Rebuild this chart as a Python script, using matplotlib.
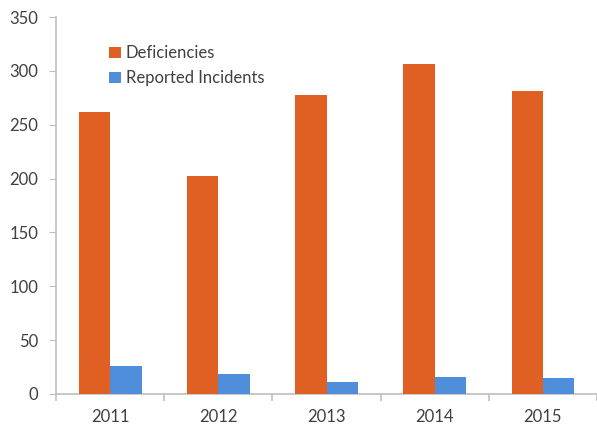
import matplotlib
matplotlib.use("Agg")
import matplotlib.pyplot as plt
import numpy as np

years = ["2011", "2012", "2013", "2014", "2015"]
deficiencies = [262, 202, 278, 306, 281]
incidents = [26, 19, 11, 16, 15]

ORANGE = "#E06024"
BLUE = "#4F8EDA"
AXIS = "#BFBFBF"
TEXT = "#404040"

plt.rcParams["font.family"] = ["Lato", "DejaVu Sans"]

fig = plt.figure(figsize=(5.97, 4.25), dpi=100)
ax = fig.add_axes([0.094, 0.073, 0.906, 0.887])

x = np.arange(len(years))
w = 0.29
ax.bar(x - w / 2, deficiencies, w, color=ORANGE, label="Deficiencies", zorder=3)
ax.bar(x + w / 2, incidents, w, color=BLUE, label="Reported Incidents", zorder=3)

ax.set_xlim(-0.5, len(years) - 0.5)
ax.set_ylim(0, 350)
ax.set_yticks(range(0, 351, 50))
ax.set_xticks(x)
ax.set_xticklabels(years)
ax.set_xticks(np.arange(-0.5, len(years), 1), minor=True)

for s in ("top", "right"):
    ax.spines[s].set_visible(False)
for s in ("left", "bottom"):
    ax.spines[s].set_color(AXIS)
    ax.spines[s].set_linewidth(1.2)

ax.tick_params(axis="y", length=5, color=AXIS, labelsize=12, labelcolor=TEXT, pad=8)
ax.tick_params(axis="x", which="major", length=0, labelsize=12, labelcolor=TEXT, pad=11)
ax.tick_params(axis="x", which="minor", length=5, color=AXIS, width=1.2)

ax.legend(loc="upper left", bbox_to_anchor=(0.07, 0.965), frameon=False,
          fontsize=12, handlelength=0.7, handleheight=0.7, handletextpad=0.3,
          labelspacing=0.55, labelcolor=TEXT)

fig.savefig("out.png", dpi=100)
